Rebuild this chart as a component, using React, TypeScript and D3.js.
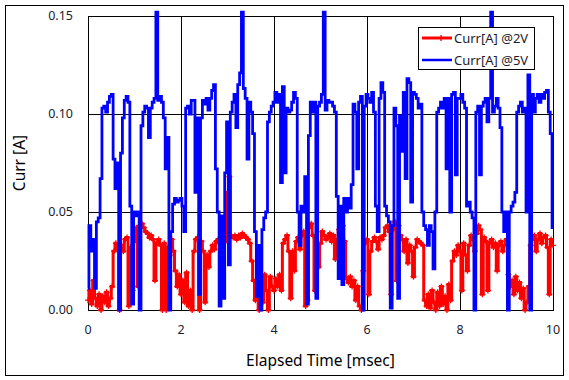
import React from "react";
import * as d3 from "d3";

const SAMPLE_STEP = 0.04; // msec between samples

const curr2V = [
  0.005, 0.010, 0.003, 0.015, 0.006, 0.002, 0.008, 0.000, 0.007, 0.004,
  0.009, 0.002, 0.006, 0.012, 0.030, 0.034, 0.031, 0.000, 0.033, 0.030,
  0.036, 0.037, 0.002, 0.032, 0.010, 0.035, 0.042, 0.012, 0.043, 0.044,
  0.042, 0.040, 0.039, 0.037, 0.038, 0.036, 0.015, 0.034, 0.036, 0.033,
  0.000, 0.034, 0.000, 0.032, 0.028, 0.036, 0.030, 0.020, 0.012, 0.018,
  0.008, 0.015, 0.004, 0.019, 0.002, 0.010, 0.000, 0.030, 0.036, 0.037,
  0.000, 0.035, 0.030, 0.004, 0.028, 0.022, 0.030, 0.033, 0.031, 0.035,
  0.036, 0.034, 0.037, 0.036, 0.035, 0.060, 0.068, 0.038, 0.037, 0.038,
  0.036, 0.038, 0.037, 0.039, 0.038, 0.037, 0.036, 0.034, 0.025, 0.015,
  0.005, 0.014, 0.000, 0.016, 0.004, 0.018, 0.010, 0.000, 0.017, 0.012,
  0.010, 0.016, 0.012, 0.018, 0.010, 0.034, 0.036, 0.038, 0.030, 0.006,
  0.030, 0.020, 0.035, 0.037, 0.031, 0.038, 0.040, 0.002, 0.005, 0.042,
  0.044, 0.038, 0.010, 0.030, 0.022, 0.034, 0.040, 0.038, 0.036, 0.037,
  0.039, 0.035, 0.038, 0.026, 0.036, 0.041, 0.042, 0.043, 0.035, 0.016,
  0.014, 0.017, 0.012, 0.015, 0.005, 0.012, 0.002, 0.000, 0.020, 0.034,
  0.036, 0.008, 0.030, 0.035, 0.037, 0.035, 0.031, 0.037, 0.036, 0.038,
  0.042, 0.043, 0.040, 0.008, 0.041, 0.045, 0.015, 0.043, 0.038, 0.036,
  0.030, 0.036, 0.024, 0.033, 0.030, 0.017, 0.032, 0.036, 0.035, 0.034,
  0.033, 0.005, 0.002, 0.008, 0.001, 0.010, 0.004, 0.000, 0.009, 0.002,
  0.012, 0.003, 0.007, 0.000, 0.013, 0.005, 0.025, 0.030, 0.028, 0.033,
  0.030, 0.010, 0.034, 0.028, 0.020, 0.033, 0.038, 0.036, 0.030, 0.039,
  0.043, 0.041, 0.008, 0.037, 0.035, 0.010, 0.034, 0.036, 0.032, 0.034,
  0.020, 0.033, 0.035, 0.030, 0.033, 0.036, 0.018, 0.012, 0.015, 0.008,
  0.017, 0.010, 0.014, 0.006, 0.011, 0.000, 0.004, 0.012, 0.033, 0.036,
  0.038, 0.030, 0.036, 0.039, 0.034, 0.037, 0.038, 0.032, 0.008, 0.036, 0.033,
];

const curr5V = [
  0.011, 0.043, 0.030, 0.036, 0.011, 0.045, 0.047, 0.067, 0.103, 0.104,
  0.101, 0.106, 0.109, 0.110, 0.077, 0.062, 0.075, 0.000, 0.080, 0.098,
  0.107, 0.109, 0.106, 0.053, 0.003, 0.050, 0.048, 0.050, 0.000, 0.094,
  0.101, 0.104, 0.103, 0.088, 0.103, 0.106, 0.108, 0.152, 0.107, 0.109,
  0.106, 0.098, 0.072, 0.088, 0.000, 0.040, 0.054, 0.057, 0.055, 0.056,
  0.057, 0.053, 0.040, 0.103, 0.104, 0.100, 0.107, 0.107, 0.060, 0.098,
  0.008, 0.098, 0.107, 0.105, 0.108, 0.102, 0.108, 0.112, 0.115, 0.072,
  0.050, 0.002, 0.048, 0.006, 0.070, 0.096, 0.023, 0.101, 0.106, 0.110,
  0.093, 0.115, 0.121, 0.152, 0.113, 0.108, 0.077, 0.106, 0.101, 0.090,
  0.040, 0.007, 0.033, 0.000, 0.041, 0.047, 0.050, 0.096, 0.101, 0.104,
  0.106, 0.111, 0.106, 0.110, 0.065, 0.114, 0.070, 0.103, 0.101, 0.102,
  0.106, 0.111, 0.108, 0.050, 0.033, 0.053, 0.050, 0.068, 0.003, 0.089,
  0.106, 0.101, 0.106, 0.006, 0.104, 0.106, 0.110, 0.152, 0.102, 0.107,
  0.106, 0.106, 0.104, 0.101, 0.058, 0.016, 0.053, 0.013, 0.057, 0.050,
  0.057, 0.052, 0.064, 0.105, 0.101, 0.072, 0.106, 0.109, 0.000, 0.104,
  0.110, 0.108, 0.106, 0.111, 0.101, 0.053, 0.040, 0.108, 0.116, 0.111,
  0.053, 0.048, 0.045, 0.001, 0.043, 0.103, 0.094, 0.006, 0.099, 0.081,
  0.111, 0.067, 0.118, 0.116, 0.055, 0.111, 0.110, 0.108, 0.103, 0.105,
  0.050, 0.043, 0.041, 0.033, 0.043, 0.040, 0.021, 0.050, 0.101, 0.103,
  0.106, 0.103, 0.108, 0.072, 0.108, 0.050, 0.110, 0.111, 0.069, 0.108,
  0.108, 0.110, 0.106, 0.103, 0.053, 0.055, 0.050, 0.047, 0.000, 0.101,
  0.104, 0.069, 0.104, 0.106, 0.108, 0.096, 0.108, 0.152, 0.101, 0.104,
  0.108, 0.103, 0.093, 0.050, 0.040, 0.050, 0.000, 0.050, 0.053, 0.055,
  0.060, 0.101, 0.104, 0.106, 0.101, 0.103, 0.050, 0.120, 0.000, 0.110,
  0.101, 0.108, 0.110, 0.106, 0.110, 0.108, 0.111, 0.112, 0.101, 0.090, 0.042,
];

const xTicks = [0, 2, 4, 6, 8, 10];
const yTicks = [0, 0.05, 0.1, 0.15];
const seriesNames = ["Curr[A] @2V", "Curr[A] @5V"];
const seriesColors = ["#ff0000", "#0000ff"];

const W = 569;
const H = 380;
const FONT = "'Noto Sans', 'DejaVu Sans', sans-serif";
const TEXT = "#1c1c2c";

export default function App() {
  const left = 88, right = 553, top = 16, bottom = 310;
  const x = d3.scaleLinear().domain([0, 10]).range([left, right]);
  const y = d3.scaleLinear().domain([0, 0.15]).range([bottom, top]);

  const toPts = (vals: number[]) => vals.map((v, i) => [i * SAMPLE_STEP, v] as [number, number]);
  const line = d3.line<[number, number]>().x((d) => x(d[0])).y((d) => y(d[1])).curve(d3.curveStep);
  const redPts = toPts(curr2V);
  const bluePts = toPts(curr5V);

  const plus = (cx: number, cy: number, s: number) =>
    `M${cx - s},${cy}H${cx + s}M${cx},${cy - s}V${cy + s}`;
  const redMarkers = redPts.map((d) => plus(x(d[0]), y(d[1]), 3)).join("");

  return (
    <svg width={W} height={H} style={{ position: "absolute", left: 0, top: 0, background: "#fff" }}
      fontFamily={FONT}>
      <rect x={5.5} y={5.5} width={558} height={370} fill="#fff" stroke="#000" strokeWidth={1} />
      {/* grid */}
      {xTicks.map((t) => (
        <line key={"gx" + t} x1={Math.round(x(t)) + 0.5} x2={Math.round(x(t)) + 0.5} y1={top} y2={bottom}
          stroke="#000" strokeWidth={1} />
      ))}
      {yTicks.map((t) => (
        <line key={"gy" + t} x1={left} x2={right} y1={Math.round(y(t)) + 0.5} y2={Math.round(y(t)) + 0.5}
          stroke="#000" strokeWidth={1} />
      ))}
      <rect x={left + 0.5} y={top + 0.5} width={right - left} height={bottom - top} fill="none" stroke="#000" />
      {/* series */}
      <path d={line(redPts) || ""} fill="none" stroke={seriesColors[0]} strokeWidth={3} strokeLinejoin="miter" />
      <path d={redMarkers} fill="none" stroke={seriesColors[0]} strokeWidth={1.3} />
      <path d={line(bluePts) || ""} fill="none" stroke={seriesColors[1]} strokeWidth={2.8} strokeLinejoin="miter" />
      {/* tick labels */}
      {yTicks.map((t) => (
        <text key={"ty" + t} x={73} y={y(t)} dy="0.35em" textAnchor="end" fontSize={12.5} fill={TEXT}>
          {d3.format(".2f")(t)}
        </text>
      ))}
      {xTicks.map((t) => (
        <text key={"tx" + t} x={x(t)} y={330} dy="0.35em" textAnchor="middle" fontSize={12.5} fill={TEXT}>
          {t}
        </text>
      ))}
      <text x={(left + right) / 2} y={361} dy="0.35em" textAnchor="middle" fontSize={15.5} fill="#000">
        Elapsed Time [msec]
      </text>
      <text transform={`translate(20,${(top + bottom) / 2}) rotate(-90)`} dy="0.35em" textAnchor="middle"
        fontSize={15.5} fill="#000">
        Curr [A]
      </text>
      {/* legend */}
      <rect x={418.5} y={27.5} width={116} height={42} fill="#fff" stroke="#000" />
      {seriesNames.map((name, k) => {
        const ly = 38 + k * 22;
        return (
          <g key={name}>
            <line x1={422} x2={452} y1={ly} y2={ly} stroke={seriesColors[k]} strokeWidth={k === 0 ? 3 : 2.5} />
            {k === 0 && <path d={plus(441, ly, 3)} stroke={seriesColors[k]} strokeWidth={1.3} />}
            <text x={454} y={ly} dy="0.35em" fontSize={13} fill={TEXT}>{name}</text>
          </g>
        );
      })}
    </svg>
  );
}
